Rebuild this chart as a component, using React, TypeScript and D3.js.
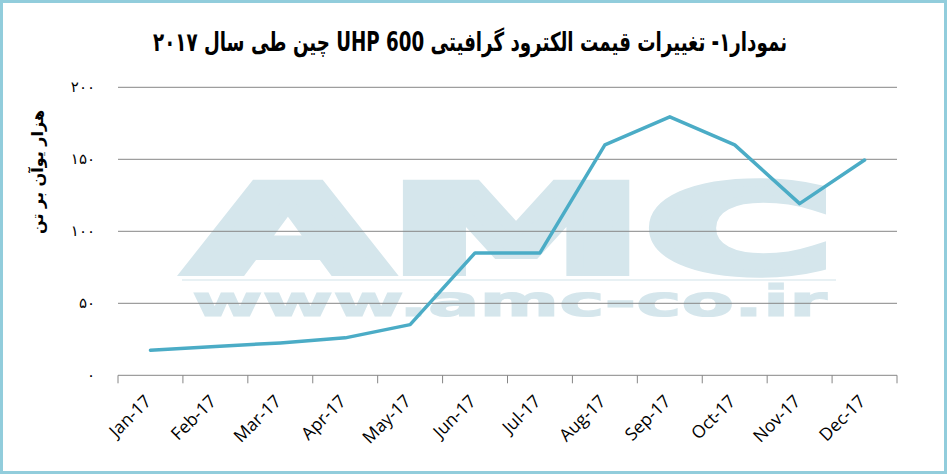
import React, { useEffect } from "react";
import * as d3 from "d3";

const months = ["Jan-17","Feb-17","Mar-17","Apr-17","May-17","Jun-17","Jul-17","Aug-17","Sep-17","Oct-17","Nov-17","Dec-17"];
const prices = [17.4, 20, 22.5, 26, 35.2, 85, 85, 160, 179.5, 160, 119.2, 149.5];
const yTicks = [0, 50, 100, 150, 200];
const yTickLabels = ["۰", "۵۰", "۱۰۰", "۱۵۰", "۲۰۰"];
const title = "نمودار۱- تغییرات قیمت الکترود گرافیتی UHP 600 چین طی سال ۲۰۱۷";
const yTitle = "هزار یوآن بر تن";

const W = 947, H = 474;
const left = 118, right = 897, top = 87.3, bottom = 375.3;

export default function App() {
  useEffect(() => {
    document.body.style.margin = "0";
  }, []);

  const x = d3.scaleBand<string>().domain(months).range([left, right]).padding(0);
  const y = d3.scaleLinear().domain([0, 200]).range([bottom, top]);
  const line = d3
    .line<number>()
    .x((_, i) => (x(months[i]) as number) + x.bandwidth() / 2)
    .y((d) => y(d));

  const boundaries = months.map((m) => x(m) as number).concat([right]);

  return (
    <svg width={W} height={H} style={{ display: "block" }}>
      <rect x={0} y={0} width={W} height={H} fill="#ffffff" />
      {/* watermark */}
      <g fill="#d5e6ec" stroke="#d5e6ec" strokeLinejoin="miter">
        <text
          x={188}
          y={272}
          fontFamily="DejaVu Sans"
          fontWeight="bold"
          fontSize={121}
          textLength={646}
          lengthAdjust="spacingAndGlyphs"
          strokeWidth={8}
        >
          AMC
        </text>
        <text
          x={192}
          y={316}
          fontFamily="DejaVu Sans"
          fontWeight="bold"
          fontSize={42}
          textLength={635}
          lengthAdjust="spacingAndGlyphs"
          strokeWidth={1.2}
        >
          www.amc-co.ir
        </text>
      </g>
      <rect x={182} y={279} width={654} height={2} fill="#e8f1f4" />
      {/* gridlines */}
      {yTicks.filter((t) => t > 0).map((t) => (
        <line key={t} x1={left} x2={right} y1={y(t)} y2={y(t)} stroke="#868686" strokeWidth={1} />
      ))}
      {/* x axis */}
      <line x1={left} x2={right} y1={bottom} y2={bottom} stroke="#868686" strokeWidth={1} />
      {boundaries.map((b, i) => (
        <line key={i} x1={b} x2={b} y1={bottom} y2={bottom + 8} stroke="#868686" strokeWidth={1} />
      ))}
      {/* y tick labels */}
      {yTicks.map((t, i) => (
        <text
          key={t}
          x={95}
          y={y(t) + 5}
          textAnchor="end"
          fontFamily="DejaVu Sans"
          fontSize={15}
          fill="#000"
        >
          {yTickLabels[i]}
        </text>
      ))}
      {/* x labels */}
      {months.map((m) => {
        const cx = (x(m) as number) + x.bandwidth() / 2 + 2;
        const cy = bottom + 27;
        return (
          <text
            key={m}
            x={cx}
            y={cy}
            transform={`rotate(-45 ${cx} ${cy})`}
            textAnchor="end"
            fontFamily="Open Sans"
            fontSize={17.5}
            fill="#000"
          >
            {m}
          </text>
        );
      })}
      {/* line */}
      <path d={line(prices) || ""} fill="none" stroke="#4bacc6" strokeWidth={3.5} strokeLinejoin="round" strokeLinecap="round" />
      {/* title */}
      <text
        x={470}
        y={51}
        textAnchor="middle"
        direction="rtl"
        fontFamily="DejaVu Sans"
        fontWeight="bold"
        fontSize={26}
        textLength={634}
        lengthAdjust="spacingAndGlyphs"
        fill="#000"
      >
        {title}
      </text>
      {/* y title */}
      <text
        x={0}
        y={0}
        transform="translate(43 172) rotate(-90)"
        textAnchor="middle"
        direction="rtl"
        fontFamily="DejaVu Sans"
        fontWeight="bold"
        fontSize={16}
        fill="#000"
      >
        {yTitle}
      </text>
      {/* border */}
      <rect x={1.5} y={1.5} width={W - 3} height={H - 3} fill="none" stroke="#92cddc" strokeWidth={3} />
    </svg>
  );
}
